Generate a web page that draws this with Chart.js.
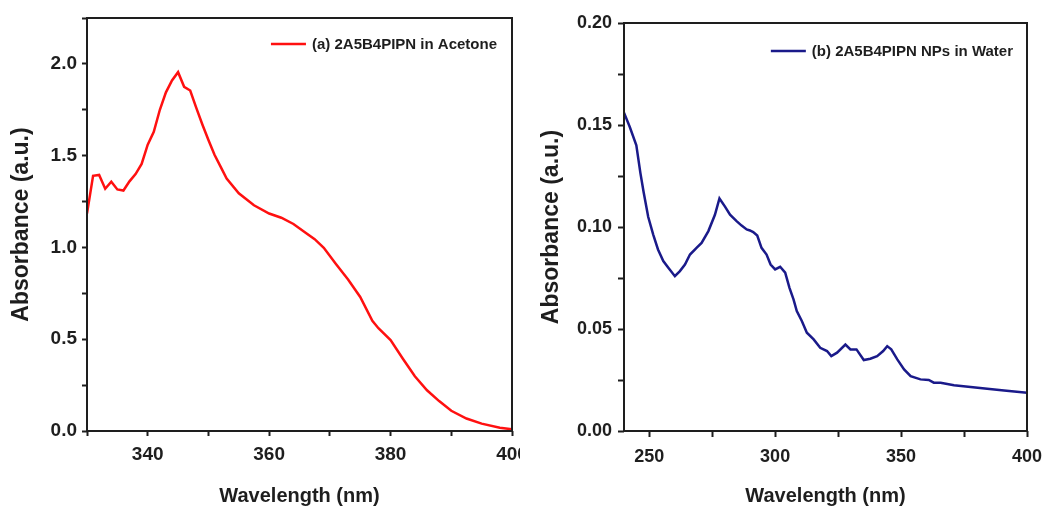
<!DOCTYPE html>
<html lang="en">
<head>
<meta charset="UTF-8" />
<title>Absorbance spectra of 2A5B4PIPN</title>
<script src="https://cdn.jsdelivr.net/npm/chart.js"></script>
<style>
  html, body {
    margin: 0;
    padding: 0;
    background: #fff;
    width: 1042px;
    height: 506px;
    overflow: hidden;
  }
  .panel {
    position: absolute;
    top: 0;
  }
  #panelA { left: 0; }
  #panelB { left: 520px; }
</style>
</head>
<body>

<div class="panel" id="panelA"><canvas id="chartA" width="520" height="506"></canvas></div>
<div class="panel" id="panelB"><canvas id="chartB" width="522" height="506"></canvas></div>

<script>
  // (a) in acetone
  const wavelengthA = [330, 331, 332, 333, 334, 335, 336, 337, 338, 339, 340, 341, 342, 343, 344, 345,
    346, 347, 348, 349, 350, 351, 352, 353, 355, 357.5, 360, 362, 364, 366, 367.5, 369, 371, 373,
    375, 377, 378, 380, 382, 384, 386, 388, 390, 392.5, 395, 398, 400];
  const absorbanceA = [1.185, 1.39, 1.395, 1.32, 1.358, 1.316, 1.31, 1.36, 1.40, 1.455, 1.56, 1.63,
    1.75, 1.845, 1.91, 1.955, 1.875, 1.855, 1.76, 1.67, 1.585, 1.505, 1.44, 1.375, 1.295, 1.23,
    1.185, 1.162, 1.128, 1.08, 1.045, 0.998, 0.91, 0.825, 0.73, 0.60, 0.56, 0.495, 0.395, 0.298,
    0.222, 0.163, 0.11, 0.068, 0.04, 0.018, 0.009];
  const xLabelsA = [340, 360, 380, 400];
  const yLabelsA = [0, 0.5, 1.0, 1.5, 2.0];

  // (b) nanoparticles in water
  const wavelengthB = [240, 242.3, 244.9, 246.5, 247.8, 249.6, 251.6, 253.5, 255.6, 257.6, 260.2,
    262.2, 264.2, 266.2, 268.8, 270.8, 273.5, 276.1, 277.9, 280.1, 282.1, 284.7, 286.7, 288.7, 290,
    291.3, 292.9, 294.6, 296.6, 298.2, 300, 302, 304, 305.7, 307.3, 308.6, 310.6, 312.6, 315.3,
    317.9, 320.6, 322.3, 324.6, 327.9, 329.9, 332.3, 335.2, 337.8, 340.5, 342.9, 344.5, 346.1,
    348.5, 351.2, 353.8, 357.7, 361, 363, 365.7, 371, 377.6, 384.2, 390.9, 400];
  const absorbanceB = [0.156, 0.149, 0.140, 0.1265, 0.117, 0.105, 0.0963, 0.089, 0.0833, 0.080,
    0.0759, 0.0784, 0.0816, 0.0865, 0.0898, 0.0922, 0.098, 0.106, 0.114, 0.110, 0.106, 0.1029,
    0.1007, 0.0988, 0.0983, 0.0975, 0.0958, 0.0898, 0.0865, 0.0816, 0.0792, 0.0805, 0.0776, 0.0702,
    0.0645, 0.0588, 0.0539, 0.0482, 0.0449, 0.0408, 0.0392, 0.0367, 0.0384, 0.0424, 0.040, 0.040,
    0.0348, 0.0354, 0.0367, 0.0392, 0.0416, 0.040, 0.0351, 0.0302, 0.0269, 0.0253, 0.025, 0.0237,
    0.0237, 0.0224, 0.0216, 0.0207, 0.0199, 0.0188];
  const xLabelsB = [250, 300, 350, 400];
  const yLabelsB = [0, 0.05, 0.10, 0.15, 0.20];

  const INK = '#1e1e1e';
  const FONT = '"Liberation Sans", Arial, sans-serif';

  // box around the plot + the little key in the top right corner
  const frameKey = {
    id: 'frameKey',
    afterDraw(chart, args, opts) {
      const { ctx, chartArea: a } = chart;
      ctx.save();
      ctx.strokeStyle = INK;
      ctx.lineWidth = 2;
      ctx.strokeRect(a.left, a.top, a.right - a.left, a.bottom - a.top);

      ctx.font = 'bold 15px ' + FONT;
      ctx.fillStyle = INK;
      ctx.textBaseline = 'middle';
      ctx.textAlign = 'right';
      const textEnd = a.right - opts.inset;
      const textW = ctx.measureText(opts.label).width;
      const y = a.top + opts.dy;
      ctx.fillText(opts.label, textEnd, y + 1);
      ctx.strokeStyle = opts.color;
      ctx.lineWidth = 2.5;
      ctx.beginPath();
      ctx.moveTo(textEnd - textW - 6 - 35, y);
      ctx.lineTo(textEnd - textW - 6, y);
      ctx.stroke();
      ctx.restore();
    }
  };

  function isIn(list, v) {
    return list.some(t => Math.abs(t - v) < 1e-6);
  }

  // every multiple of step inside the axis range (major + minor tick marks)
  function stepTicks(step) {
    return function (scale) {
      const out = [];
      const k0 = Math.ceil(scale.min / step - 1e-9);
      for (let k = k0; k * step <= scale.max + 1e-9; k++) {
        out.push({ value: Math.round(k * step * 10000) / 10000 });
      }
      scale.ticks = out;
    };
  }

  function makeChart(id, cfg) {
    const points = cfg.xs.map((x, i) => ({ x: x, y: cfg.ys[i] }));
    return new Chart(document.getElementById(id), {
      type: 'line',
      data: {
        datasets: [{
          label: cfg.label,
          data: points,
          borderColor: cfg.color,
          borderWidth: 2.5,
          pointRadius: 0,
          tension: 0,
          fill: false
        }]
      },
      plugins: [frameKey],
      options: {
        responsive: false,
        devicePixelRatio: 1,
        animation: false,
        layout: { padding: { left: 0, top: cfg.top, right: cfg.right, bottom: 0 } },
        plugins: {
          legend: { display: false },
          tooltip: { enabled: false },
          frameKey: { label: cfg.label, color: cfg.color, inset: cfg.keyInset, dy: cfg.keyDy }
        },
        scales: {
          x: {
            type: 'linear',
            min: cfg.xMin,
            max: cfg.xMax,
            afterBuildTicks: stepTicks(cfg.xStep),
            afterFit(s) { s.height = 75; s.paddingLeft = 0; s.paddingRight = 0; },
            ticks: {
              autoSkip: false,
              maxRotation: 0,
              padding: cfg.xPad,
              color: INK,
              font: { family: FONT, size: cfg.tickSize, weight: 'bold' },
              callback: v => isIn(cfg.xLabels, v) ? String(v) : ''
            },
            grid: {
              drawOnChartArea: false,
              drawTicks: true,
              tickLength: cfg.tickLen,
              tickWidth: 2,
              tickColor: INK
            },
            border: { display: false },
            title: {
              display: true,
              text: 'Wavelength (nm)',
              color: INK,
              font: { family: FONT, size: 20, weight: 'bold', lineHeight: 1 },
              padding: { top: 0, bottom: 0 }
            }
          },
          y: {
            type: 'linear',
            min: 0,
            max: cfg.yMax,
            afterBuildTicks: stepTicks(cfg.yStep),
            afterFit(s) { s.width = cfg.yWidth; s.paddingTop = 0; s.paddingBottom = 0; },
            ticks: {
              autoSkip: false,
              padding: cfg.yPad,
              color: INK,
              font: { family: FONT, size: cfg.tickSize, weight: 'bold' },
              callback: v => isIn(cfg.yLabels, v) ? v.toFixed(cfg.digits) : ''
            },
            grid: {
              drawOnChartArea: false,
              drawTicks: true,
              tickLength: cfg.tickLen,
              tickWidth: 2,
              tickColor: INK
            },
            border: { display: false },
            title: {
              display: true,
              text: 'Absorbance (a.u.)',
              color: INK,
              font: { family: FONT, size: 23, weight: 'bold', lineHeight: 1 },
              padding: { top: cfg.yTitlePad, bottom: 0 }
            }
          }
        }
      }
    });
  }

  makeChart('chartA', {
    xs: wavelengthA, ys: absorbanceA, label: '(a) 2A5B4PIPN in Acetone', color: '#ff1010',
    xMin: 330, xMax: 400, xStep: 10, xLabels: xLabelsA,
    yMax: 2.25, yStep: 0.25, yLabels: yLabelsA, digits: 1,
    top: 18, right: 8, yWidth: 87, tickLen: 5, tickSize: 19, xPad: 7, yPad: 5, yTitlePad: 10,
    keyInset: 15, keyDy: 26
  });

  makeChart('chartB', {
    xs: wavelengthB, ys: absorbanceB, label: '(b) 2A5B4PIPN NPs in Water', color: '#1a1a8a',
    xMin: 240, xMax: 400, xStep: 25, xLabels: xLabelsB,
    yMax: 0.20, yStep: 0.025, yLabels: yLabelsB, digits: 2,
    top: 23, right: 15, yWidth: 104, tickLen: 6, tickSize: 18, xPad: 9, yPad: 6, yTitlePad: 20,
    keyInset: 14, keyDy: 28
  });
</script>

</body>
</html>
